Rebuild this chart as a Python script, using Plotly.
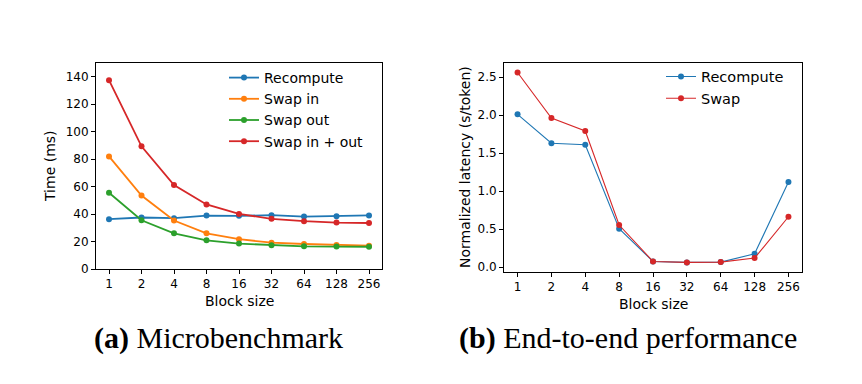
import plotly.graph_objects as go

block_sizes = ["1", "2", "4", "8", "16", "32", "64", "128", "256"]

# (a) Microbenchmark, time in ms
micro_recompute = [36.3, 37.5, 37.0, 38.9, 38.7, 39.2, 38.2, 38.4, 39.0]
micro_swap_in = [82.0, 53.5, 35.3, 26.0, 21.7, 19.2, 18.2, 17.5, 17.0]
micro_swap_out = [55.5, 35.5, 26.0, 20.9, 18.5, 17.3, 16.5, 16.3, 16.2]
micro_swap_inout = [137.5, 89.3, 61.1, 47.0, 40.1, 36.5, 34.8, 33.8, 33.5]

# (b) End-to-end performance, normalized latency in s/token
e2e_recompute = [2.01, 1.63, 1.61, 0.505, 0.074, 0.061, 0.065, 0.174, 1.12]
e2e_swap = [2.56, 1.96, 1.79, 0.553, 0.074, 0.061, 0.065, 0.118, 0.662]

left_yticks = [0, 20, 40, 60, 80, 100, 120, 140]
right_yticks = [0.0, 0.5, 1.0, 1.5, 2.0, 2.5]

BLUE, ORANGE, GREEN, RED = "#1f77b4", "#ff7f0e", "#2ca02c", "#d62728"
W, H = 862, 384
SANS = "DejaVu Sans"
SERIF = "Liberation Serif"

fig = go.Figure()

left_series = [
    ("Recompute", micro_recompute, BLUE),
    ("Swap in", micro_swap_in, ORANGE),
    ("Swap out", micro_swap_out, GREEN),
    ("Swap in + out", micro_swap_inout, RED),
]
for name, vals, col in left_series:
    fig.add_trace(go.Scatter(
        x=block_sizes, y=vals, name=name, mode="lines+markers",
        line=dict(color=col, width=1.8), marker=dict(color=col, size=6),
        xaxis="x", yaxis="y", legend="legend", legendgroup="L" + name,
    ))

right_series = [
    ("Recompute", e2e_recompute, BLUE),
    ("Swap", e2e_swap, RED),
]
for name, vals, col in right_series:
    fig.add_trace(go.Scatter(
        x=block_sizes, y=vals, name=name, mode="lines+markers",
        line=dict(color=col, width=1.1), marker=dict(color=col, size=6),
        xaxis="x2", yaxis="y2", legend="legend2", legendgroup="R" + name,
    ))

def px_x(p):
    return p / W

def px_y(p):
    return 1 - p / H

axis_common = dict(
    showline=True, mirror=True, linecolor="black", linewidth=1,
    ticks="outside", ticklen=4, tickcolor="black", tickwidth=1,
    showgrid=False, zeroline=False, automargin=False,
    tickfont=dict(family=SANS, size=12, color="black"),
)

fig.update_layout(
    width=W, height=H, autosize=False,
    margin=dict(l=0, r=0, t=0, b=0, pad=0),
    paper_bgcolor="white", plot_bgcolor="white",
    xaxis=dict(domain=[px_x(96), px_x(382)], anchor="y", type="category",
               range=[-0.4, 8.4], **axis_common),
    yaxis=dict(domain=[px_y(269), px_y(63)], anchor="x", range=[0, 150],
               tickvals=left_yticks, **axis_common),
    xaxis2=dict(domain=[px_x(504), px_x(802)], anchor="y2", type="category",
                range=[-0.4, 8.4], **axis_common),
    yaxis2=dict(domain=[px_y(272), px_y(63)], anchor="x2", range=[-0.065, 2.685],
                tickvals=right_yticks, tickformat=".1f", **axis_common),
    legend=dict(x=px_x(224), y=px_y(62), xanchor="left", yanchor="top",
                bgcolor="rgba(0,0,0,0)", font=dict(family=SANS, size=14, color="black"),
                tracegroupgap=0, itemwidth=30),
    legend2=dict(x=px_x(661), y=px_y(60.5), xanchor="left", yanchor="top",
                 bgcolor="rgba(0,0,0,0)", font=dict(family=SANS, size=14.5, color="black"),
                 tracegroupgap=0, itemwidth=30),
    showlegend=True,
)

def ann(text, x, y, size, family, angle=0):
    return dict(text=text, x=px_x(x), y=px_y(y), xref="paper", yref="paper",
                xanchor="center", yanchor="middle", textangle=angle,
                showarrow=False, font=dict(family=family, size=size, color="black"))

annotations = [
    ann("Block size", 239, 301, 14, SANS),
    ann("Block size", 653, 304, 14, SANS),
    ann("Time (ms)", 50, 166, 14, SANS, -90),
    ann("Normalized latency (s/token)", 465, 167, 14, SANS, -90),
    ann("<b>(a)</b> Microbenchmark", 218, 338, 30, SERIF),
    ann("<b>(b)</b> End-to-end performance", 628, 338, 30, SERIF),
]
fig.update_layout(annotations=annotations)

fig.write_html(
    "out.html",
    config={"displayModeBar": False, "responsive": False},
    post_script="document.body.style.margin='0px';document.body.style.overflow='hidden';",
)
